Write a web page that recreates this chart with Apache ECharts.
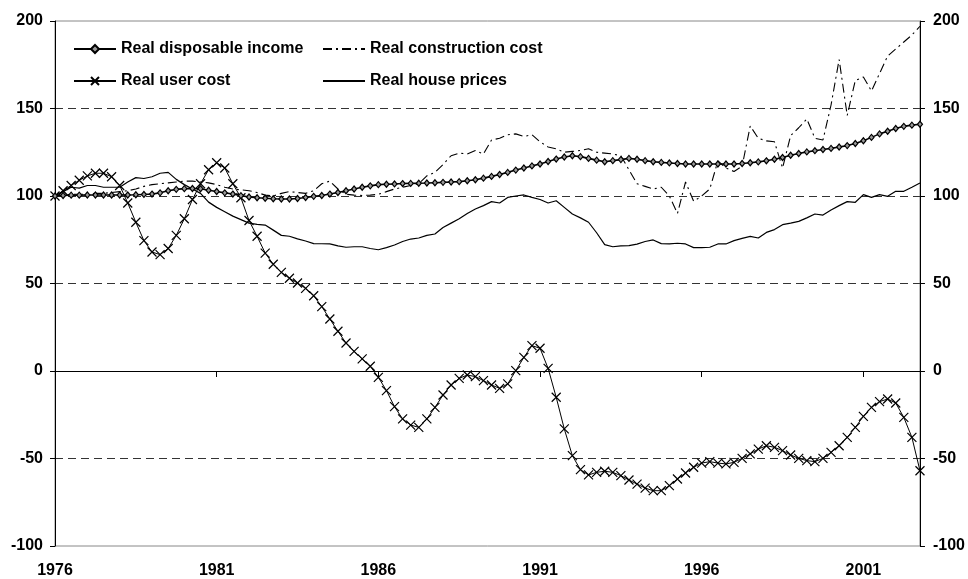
<!DOCTYPE html>
<html>
<head>
<meta charset="utf-8">
<script src="https://cdn.jsdelivr.net/npm/echarts@6/dist/echarts.min.js"></script>
<style>
html,body{margin:0;padding:0;background:#fff;}
#chart{width:968px;height:579px;}
</style>
</head>
<body>
<div id="chart"></div>
<script>
// Quarterly, 1976Q1 .. 2002Q4
const startYear = 1976;
const endYear = 2002;
const yTicks = [-100, -50, 0, 50, 100, 150, 200];
const seriesNames = ['Real disposable income', 'Real construction cost', 'Real user cost', 'Real house prices'];

const income = [
100,100.3,100.5,100.5,100.6,100.6,100.6,100.6,100.6,100.6,100.7,100.9,
101.1,101.8,103,103.8,104.2,104.3,104.1,103.3,102.6,101.8,101.1,100.2,
99.4,99,98.7,98.4,98.3,98.3,98.6,99.1,99.8,100.3,101.1,102,
103,104,105,105.8,106.5,106.7,106.9,107.1,107.2,107.3,107.4,107.6,
107.8,108,108.2,108.7,109.3,110.2,111.2,112.3,113.5,114.8,116,117.2,
118.3,119.7,121.1,122.3,123,122.5,121.5,120.5,119.6,120.2,120.8,121.5,
121,120.2,119.6,119.2,118.9,118.6,118.3,118.3,118.3,118.3,118.3,118.3,
118.3,118.6,119,119.5,120.1,121,122,123.3,124.3,125.2,125.9,126.6,
127.2,128,128.8,130,131.6,133.5,135.5,137,138.6,139.8,140.5,141
];

const construction = [
100,100.5,101,101,101,101.5,101.5,102,102.5,103,104,105.5,
106.5,107,107.5,108,108.5,108.5,108,107.5,106.5,105,104,103.5,
103,102,100.5,100,101.5,102.5,102,101.5,103,107,108.5,104,
101,100.5,100.3,100.5,101,102.5,104,105,106,107,111.5,113.5,
118,123,124.5,124,126,124,132,133,135,135.5,134,135,
131,128,127,125,125.5,126,127,125,124.5,124,123,115,
107,105.5,104,105,100,90,108,97,100,104,120,116,
114,117,140,133,131.5,131,116,134.5,139,144,133,132,
152,178,146,166,168,160,170,180,184,188,192,197
];

const userCost = [
100,103,106,109,111.5,113,113,111,106,96,85,74.5,
68,66.5,70,77.5,87,98,107,115,119,116,107,99,
86,77,67.4,61,56.4,53,50.3,47.2,43,36.8,29.7,22.7,
16,11.2,6.9,2.7,-3.6,-11.2,-20.4,-27.4,-30.9,-32.2,-27.4,-20.8,
-13.7,-8,-4.2,-2.3,-3.2,-5.5,-8,-9.9,-7.4,0.2,7.8,14.5,
13,1.5,-15,-33.1,-48.4,-56.4,-59.4,-57.9,-57.3,-57.9,-59.8,-62.3,
-64.6,-66.9,-68.4,-68.4,-65.5,-61.7,-58.3,-55,-52.6,-51.8,-52.6,-53.1,
-52.2,-49.9,-47.4,-44.6,-42.7,-43.6,-45.5,-48,-49.9,-51.2,-51.8,-49.9,
-46.5,-42.7,-37.9,-32.2,-25.9,-20.8,-17.5,-16,-18.3,-26.5,-37.9,-57
];

const housePrices = [
100,102.5,105,104.5,106,106,105,105,105,108,110.5,110,
111,113,113.5,109.5,106.5,104,101.5,96.5,93.5,91,88.5,86.5,
84.5,83.8,83.4,80.5,77.5,77,75.5,74.3,72.8,72.7,72.6,71.5,
70.7,71,71,70,69.3,70.5,72,74,75.4,76,77.5,78.3,
82,84.5,87,90,92.6,94.5,96.8,96,99.2,100,100.6,99.2,
98,96,97.3,93.5,89.7,87.5,85,79,72.2,71,71.5,71.6,
72.5,74,74.9,72.8,72.6,73,72.6,70.5,70.5,70.7,72.6,72.6,
74.5,75.8,76.9,76,79.2,80.8,83.6,84.5,85.5,87.5,89.7,89.1,
92,94.5,96.8,96.4,100.8,99.2,100.8,99.8,102.7,102.7,105,107.4
];

const categories = [];
for (let y = startYear; y <= endYear; y++) {
  for (let q = 1; q <= 4; q++) categories.push(y + 'Q' + q);
}

const FONT = '"Liberation Sans", Arial, sans-serif';
const labelStyle = { fontFamily: FONT, fontSize: 16, fontWeight: 'bold', color: '#000' };
const every20 = function (idx) { return idx % 20 === 0; };

function legendAt(name, left, top, hideSymbol) {
  const lg = {
    data: [name], left: left, top: top, padding: 0,
    itemWidth: 42, itemHeight: 10, selectedMode: false,
    textStyle: labelStyle
  };
  if (hideSymbol) lg.itemStyle = { opacity: 0 };
  return lg;
}

const chart = echarts.init(document.getElementById('chart'), null, { renderer: 'canvas' });
chart.setOption({
  animation: false,
  backgroundColor: '#fff',
  textStyle: { fontFamily: FONT },
  grid: { left: 55, right: 45, top: 21, bottom: 32, show: true, borderColor: '#888', borderWidth: 1 },
  legend: [
    legendAt(seriesNames[0], 73, 41, false),
    legendAt(seriesNames[1], 322, 41, true),
    legendAt(seriesNames[2], 73, 73, false),
    legendAt(seriesNames[3], 322, 73, true)
  ],
  xAxis: [
    {
      type: 'category', data: categories, boundaryGap: false, position: 'bottom',
      axisLine: { show: true, onZero: true, lineStyle: { color: '#000', width: 1 } },
      axisTick: { show: true, interval: every20, length: 6, inside: false, lineStyle: { color: '#000' } },
      axisLabel: { show: false },
      splitLine: { show: false }
    },
    {
      type: 'category', data: categories, boundaryGap: false, position: 'bottom',
      axisLine: { show: false, onZero: false },
      axisTick: { show: false },
      axisLabel: Object.assign({ show: true, interval: every20, margin: 17,
        formatter: function (v) { return v.slice(0, 4); } }, labelStyle),
      splitLine: { show: false }
    }
  ],
  yAxis: [
    {
      type: 'value', position: 'left', min: yTicks[0], max: yTicks[yTicks.length - 1], interval: 50,
      axisLine: { show: true, lineStyle: { color: '#000', width: 1 } },
      axisTick: { show: true, length: 5, inside: false, lineStyle: { color: '#000' } },
      axisLabel: Object.assign({ margin: 12 }, labelStyle),
      splitLine: { show: true, showMinLine: false, showMaxLine: false,
        lineStyle: { color: '#333', width: 1, type: [8, 5] } }
    },
    {
      type: 'value', position: 'right', min: yTicks[0], max: yTicks[yTicks.length - 1], interval: 50,
      axisLine: { show: true, lineStyle: { color: '#000', width: 1 } },
      axisTick: { show: true, length: 5, inside: false, lineStyle: { color: '#000' } },
      axisLabel: Object.assign({ margin: 13 }, labelStyle),
      splitLine: { show: false }
    }
  ],
  series: [
    {
      name: seriesNames[3], type: 'line', data: housePrices, silent: true,
      showSymbol: false, symbol: 'none',
      lineStyle: { color: '#000', width: 1.2 }, itemStyle: { color: '#000' }, z: 2
    },
    {
      name: seriesNames[1], type: 'line', data: construction, silent: true,
      showSymbol: false, symbol: 'none',
      lineStyle: { color: '#000', width: 1.1, type: [9, 4, 2, 4] }, itemStyle: { color: '#000' }, z: 3
    },
    {
      name: seriesNames[2], type: 'line', data: userCost, silent: true,
      symbol: 'path://M0,0L10,10M10,0L0,10', symbolSize: 9, showAllSymbol: true,
      lineStyle: { color: '#000', width: 1 },
      itemStyle: { color: 'rgba(0,0,0,0)', borderColor: '#000', borderWidth: 1.2 }, z: 4
    },
    {
      name: seriesNames[0], type: 'line', data: income, silent: true,
      symbol: 'diamond', symbolSize: [5, 6], showAllSymbol: true,
      lineStyle: { color: '#000', width: 1.6 },
      itemStyle: { color: '#999', borderColor: '#000', borderWidth: 1.2 }, z: 5
    }
  ]
});
</script>
</body>
</html>
